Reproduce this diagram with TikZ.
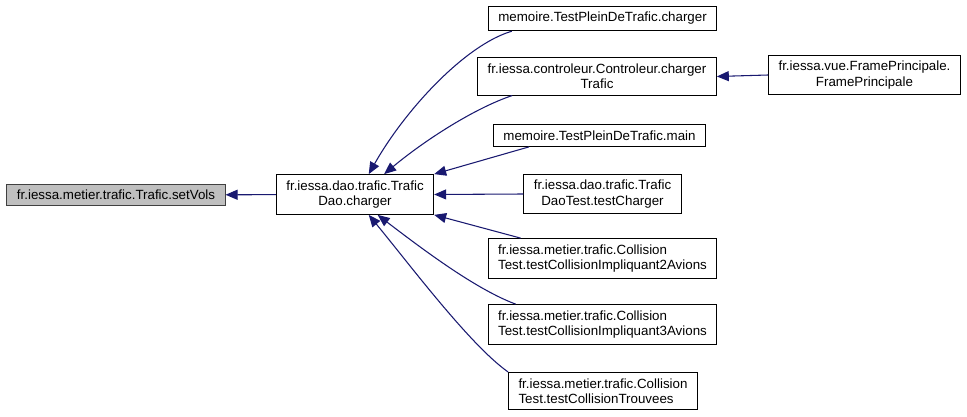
\documentclass[tikz,border=0pt]{standalone}
\usepackage{fontspec}
\setmainfont{Liberation Sans}
\usetikzlibrary{arrows.meta,positioning,calc}
\definecolor{edgeblue}{HTML}{191970}
\definecolor{nodegray}{HTML}{BFBFBF}

\begin{document}
\begin{tikzpicture}[x=0.75pt,y=-0.75pt,
    func/.style={rectangle,draw=black,line width=0.75pt,fill=white,inner xsep=7.5pt,inner ysep=4.5pt,align=center,font=\fontsize{10}{11.5}\selectfont},
    leftfunc/.style={func,align=left},
    edge/.style={draw=edgeblue,line width=0.8pt,-{Triangle[length=9pt,width=7.5pt]}}]
        \useasboundingbox (0,0) rectangle (967,417);

        \node[func,fill=nodegray,draw=black!75] (setvols) at (116,195) {fr.iessa.metier.trafic.Trafic.setVols};
        \node[func] (dao) at (355,194.5) {fr.iessa.dao.trafic.Trafic\\Dao.charger};
        \node[func] (tpc) at (602.5,18.5) {memoire.TestPleinDeTrafic.charger};
        \node[func] (ctrl) at (597,76.5) {fr.iessa.controleur.Controleur.charger\\Trafic};
        \node[func] (frame) at (864.5,75) {fr.iessa.vue.FramePrincipale.\\FramePrincipale};
        \node[func] (tpm) at (599.5,135.5) {memoire.TestPleinDeTrafic.main};
        \node[func] (tdt) at (602.5,194) {fr.iessa.dao.trafic.Trafic\\DaoTest.testCharger};
        \node[leftfunc] (col2) at (602.5,258.5) {fr.iessa.metier.trafic.Collision\\Test.testCollisionImpliquant2Avions};
        \node[leftfunc] (col3) at (602.5,324.5) {fr.iessa.metier.trafic.Collision\\Test.testCollisionImpliquant3Avions};
        \node[leftfunc] (trv) at (603,391) {fr.iessa.metier.trafic.Collision\\Test.testCollisionTrouvees};

        \draw[edge] (dao) -- (setvols);
        \draw[edge] (frame.west) -- (ctrl.east);
        \draw[edge] (tdt.west) -- (dao.east);
        \draw[edge] ($(tpm.south west)+(36,0)$) -- (dao.north east);
        \draw[edge] ($(col2.north west)+(33,0)$) -- (dao.south east);

        \draw[edge] ($(tpc.south west)+(24,0)$) .. controls (465,45) and (405,110) .. (dao.56);
        \draw[edge] ($(ctrl.south west)+(35,0)$) .. controls (475,108) and (425,140) .. (dao.35);
        \draw[edge] ($(col3.north west)+(28,0)$) .. controls (478,290) and (430,255) .. (dao.-42);
        \draw[edge] (trv.north west) .. controls (470,345) and (410,265) .. (dao.-56);
    \end{tikzpicture}
\end{document}
